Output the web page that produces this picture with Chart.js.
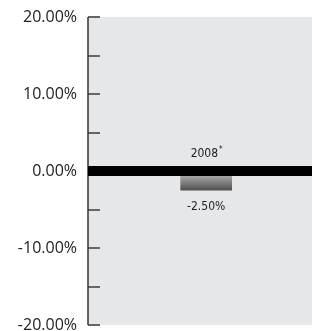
<!DOCTYPE html>
<html>
<head>
<meta charset="utf-8">
<script src="https://cdn.jsdelivr.net/npm/chart.js@4/dist/chart.umd.min.js"></script>
<style>
  html, body { margin: 0; padding: 0; background: #fff; }
  #wrap { width: 312px; height: 331px; }
</style>
</head>
<body>
<div id="wrap"><canvas id="myChart"></canvas></div>
<script>
const categories = ["2008"];
const categoryNotes = ["*"];
const values = [-2.5];
const barPositions = [0.533];
const yTicks = [-20, -10, 0, 10, 20];

const fmt = (v) => v.toFixed(2) + "%";
const smallFont = "12px 'Liberation Sans Narrow', 'DejaVu Sans Condensed', sans-serif";
const noteFont = "8px 'Liberation Sans Narrow', 'DejaVu Sans Condensed', sans-serif";

(function () {
    const ctx = document.getElementById("myChart");

    const decor = {
        id: "decor",
        beforeDraw(chart) {
            const { ctx, chartArea: a } = chart;
            ctx.save();
            ctx.fillStyle = "#e6e7e9";
            ctx.fillRect(a.left, a.top, a.right - a.left, a.bottom - a.top);
            ctx.restore();
        },
        afterDatasetsDraw(chart) {
            const { ctx, chartArea: a } = chart;
            const y = chart.scales.y;
            ctx.save();
            // tick marks pointing into the plot
            ctx.strokeStyle = "#666";
            ctx.lineWidth = 2;
            y.ticks.forEach((t) => {
                const py = Math.round(y.getPixelForValue(t.value));
                ctx.beginPath();
                ctx.moveTo(a.left, py);
                ctx.lineTo(a.left + 12, py);
                ctx.stroke();
            });
            // axis line
            ctx.strokeStyle = "#333";
            ctx.lineWidth = 1.5;
            ctx.beginPath();
            ctx.moveTo(a.left, a.top);
            ctx.lineTo(a.left, a.bottom);
            ctx.stroke();
            // zero line
            const z = y.getPixelForValue(0);
            ctx.fillStyle = "#000";
            ctx.fillRect(a.left, z - 5, a.right - a.left, 10);
            // labels
            const meta = chart.getDatasetMeta(0);
            meta.data.forEach((bar, i) => {
                ctx.fillStyle = "#222";
                ctx.textBaseline = "middle";
                ctx.font = smallFont;
                const main = categories[i];
                const w = ctx.measureText(main).width;
                ctx.font = noteFont;
                const w2 = ctx.measureText(categoryNotes[i]).width;
                const x0 = bar.x - (w + w2) / 2;
                ctx.font = smallFont;
                ctx.textAlign = "left";
                ctx.fillText(main, x0, z - 17);
                ctx.font = noteFont;
                ctx.fillText(categoryNotes[i], x0 + w + 1, z - 21);
                ctx.font = smallFont;
                ctx.textAlign = "center";
                ctx.fillText(fmt(values[i]), bar.x, bar.y + 17);
            });
            ctx.restore();
        },
    };

    new Chart(ctx, {
        type: "bar",
        data: {
            datasets: [
                {
                    data: values.map((v, i) => ({ x: barPositions[i], y: v })),
                    barThickness: 51,
                    backgroundColor: (c) => {
                        const chart = c.chart;
                        if (!chart.chartArea) return "#888";
                        const y = chart.scales.y;
                        const g = chart.ctx.createLinearGradient(0, y.getPixelForValue(0), 0, y.getPixelForValue(values[0]));
                        g.addColorStop(0, "#c4c4c4");
                        g.addColorStop(1, "#505050");
                        return g;
                    },
                    borderWidth: 0,
                },
            ],
        },
        options: {
            responsive: true,
            maintainAspectRatio: false,
            animation: false,
            layout: { padding: { top: 17, bottom: 6, right: 0, left: 0 } },
            plugins: { legend: { display: false }, tooltip: { enabled: false } },
            scales: {
                x: { type: "linear", min: 0, max: 1, display: false },
                y: {
                    min: -20,
                    max: 20,
                    afterFit: (s) => {
                        s.width = 88;
                        s.paddingTop = 0;
                        s.paddingBottom = 0;
                    },
                    border: { display: false },
                    grid: { display: false, drawTicks: false },
                    ticks: {
                        stepSize: 5,
                        padding: 11,
                        color: "#222",
                        font: { size: 16, family: "'Open Sans', sans-serif" },
                        callback: (v) => (yTicks.includes(v) ? fmt(v) : ""),
                    },
                },
            },
        },
        plugins: [decor],
    });
})();
</script>
</body>
</html>
